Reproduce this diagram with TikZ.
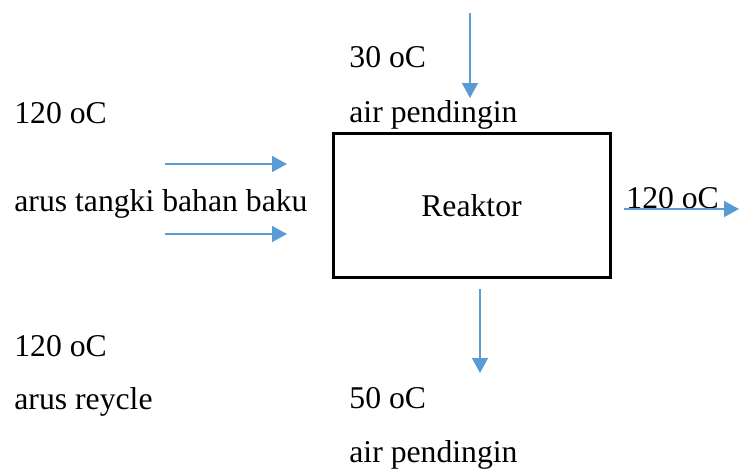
\documentclass[tikz,border=0pt]{standalone}
\usepackage{fontspec}
\setmainfont{Liberation Serif}
\usetikzlibrary{arrows.meta}
\definecolor{flowblue}{RGB}{91,155,213}

\begin{document}
\begin{tikzpicture}[
  x=0.5pt, y=-0.5pt,
  font=\fontsize{15.85}{19}\selectfont,
  lbl/.style={anchor=base west,inner sep=0pt},
  unit/.style={draw=black,line width=1.5pt,minimum width=138.5pt,minimum height=72pt,inner sep=0pt},
  flow/.style={-{Triangle[length=7.5pt,width=8pt]},line width=.75pt,draw=flowblue}
]
\useasboundingbox (0,0) rectangle (739,471);

\node[unit] (reaktor) at (471.5,205) {};
\node[anchor=base,inner sep=0pt] (rlabel) at (471.5,216) {Reaktor};

% cooling water in
\node[lbl] (tin) at (349,67) {30 oC};
\node[lbl] (cwin) at (349,122) {air pendingin};
\coordinate (cwtop) at (470,13);
\coordinate (cwtip) at (470,98);
\draw[flow] (cwtop) -- (cwtip);

% feed streams
\node[lbl] (tfeed) at (14,123) {120 oC};
\node[lbl] (feed) at (14,211) {arus tangki bahan baku};
\coordinate (f1a) at (165,164);
\coordinate (f1b) at (287,164);
\coordinate (f2a) at (165,234);
\coordinate (f2b) at (287,234);
\draw[flow] (f1a) -- (f1b);
\draw[flow] (f2a) -- (f2b);

% product
\node[lbl] (tout) at (626,208) {120 oC};
\coordinate (pa) at (624,209);
\coordinate (pb) at (739,209);
\draw[flow] (pa) -- (pb);

% recycle
\node[lbl] (trec) at (14,356) {120 oC};
\node[lbl] (rec) at (14,409) {arus reycle};

% cooling water out
\coordinate (cwbot) at (480,289);
\coordinate (cwend) at (480,373);
\draw[flow] (cwbot) -- (cwend);
\node[lbl] (tcwout) at (349,408) {50 oC};
\node[lbl] (cwout) at (349,462) {air pendingin};
\end{tikzpicture}
\end{document}
